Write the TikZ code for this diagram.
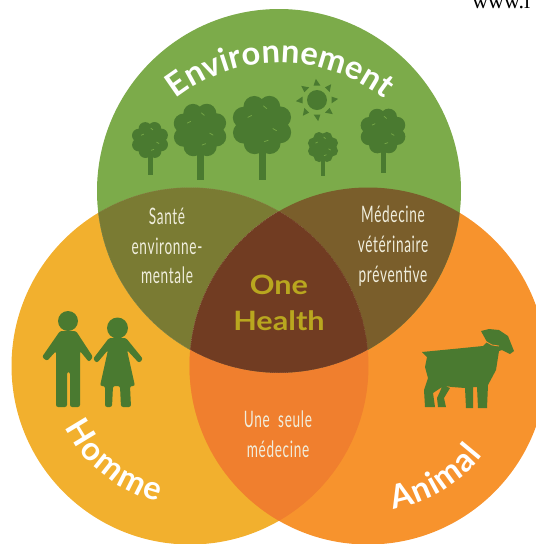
\documentclass[tikz,border=0pt]{standalone}
\usepackage{fontspec}
\usetikzlibrary{decorations.text}
\setmainfont{Liberation Serif}
\newfontfamily\curvefont{Lato}
\newfontfamily\wideboldfont[FakeStretch=1.15]{Lato}
\newfontfamily\condfont[FakeStretch=0.6,LetterSpace=3]{Lato}
\definecolor{cgreen}{HTML}{7CAB4A}
\definecolor{cyellow}{HTML}{F2B02E}
\definecolor{corange}{HTML}{F7932D}
\definecolor{ctl}{HTML}{7A7B33}
\definecolor{ctr}{HTML}{7A5E2B}
\definecolor{ccenter}{HTML}{713C22}
\definecolor{clr}{HTML}{F07F2E}
\definecolor{cicon}{HTML}{4A7A30}
\definecolor{cpale}{HTML}{F0EEDD}
\definecolor{cgold}{HTML}{B9A71F}
\tikzset{
  icon/.style={fill=cicon,draw=none},
  person/.style={fill=cicon,draw=none,rounded corners=1.6pt},
  leaf/.style={draw=cgreen!85!cicon,line width=0.6pt,line cap=round},
  smalllabel/.style={text=cpale,align=center,inner sep=0pt,font=\condfont\fontsize{17}{22.2}\selectfont},
  curved/.style={decorate,decoration={text along path,text color=white,text align={fit to path},text={|\curvefont\bfseries\fontsize{24.5}{24.5}\selectfont|#1}}},
}
\newcommand{\onetree}[5]{% cx cy r trunkbottom trunkwidth
  \fill[icon] (#1-#5/2,#2) rectangle (#1+#5/2,#4);
  \fill[icon] (#1,#2) circle[radius=0.74*#3];
  \foreach \a in {0,45,...,315}
    \fill[icon] (#1,#2) ++(\a+22:0.66*#3) circle[radius=0.36*#3];
  \foreach \a/\d/\t in {20/0.45/30,75/0.55/-20,215/0.5/-25,280/0.6/40}
    \draw[leaf] (#1,#2) ++(\a:\d*#3) ++(\t:0.07*#3) -- ++(\t+180:0.14*#3);
}
\begin{document}
\begin{tikzpicture}[x=.75pt,y=-.75pt]
\useasboundingbox (0,0) rectangle (536,544);
\clip (0,0) rectangle (536,544);
\def\ctop{(279,191) circle[radius=182]}
\def\cleft{(190,366) circle[radius=178.5]}
\def\cright{(368,366) circle[radius=178.5]}
\fill[cyellow] \cleft;
\fill[corange] \cright;
\fill[cgreen] \ctop;
\begin{scope}\clip \ctop; \fill[ctl] \cleft; \fill[ctr] \cright;
  \clip \cleft; \fill[ccenter] \cright;
  \draw[cpale!40!ccenter,line width=.4pt,densely dotted] \cleft;
  \draw[cpale!40!ccenter,line width=.4pt,densely dotted] \cright;
  \draw[cpale!40!ccenter,line width=.4pt,densely dotted] \ctop;
\end{scope}
\begin{scope}\clip \cleft; \clip \cright;
  \fill[clr,even odd rule] (0,0) rectangle (536,544) \ctop;
\end{scope}
% trees
\onetree{150}{140}{18.5}{175}{5}
\onetree{200}{130}{27}{180}{7}
\onetree{262}{125}{30}{180}{7}
\onetree{323}{147}{15.5}{176}{4.5}
\onetree{383}{131}{23}{173}{5}
% sun
\fill[icon] (317,100) circle[radius=10];
\foreach \a in {0,45,...,315}
  \fill[icon] (317,100) ++(\a:14.5) ++(\a+90:3.4) -- ++(\a-90:6.8) -- ++(\a+19:7) -- cycle;
% people
\fill[icon] (68,321) circle[radius=10];
\fill[icon] (117.5,328) circle[radius=10.5];
\fill[person] (60,331) -- (76,331) -- (93,357) -- (89,362) -- (80,351) -- (80,407) -- (70,407) -- (70,372) -- (67,372) -- (67,407) -- (56,407) -- (56,351) -- (47,361) -- (42,357) -- cycle;
\fill[person] (109,338) -- (126,338) -- (143,359) -- (139,363) -- (127,350) -- (135,386) -- (130,386) -- (131,407) -- (121,407) -- (120,386) -- (113,386) -- (112,407) -- (105,407) -- (105,386) -- (100,386) -- (108,350) -- (97,363) -- (93,359) -- cycle;
% goat
\fill[icon] (422,352) -- (453,349) -- (483,346) -- (487,342) -- (481,331) -- (489,329) -- (499,330) -- (508,336) -- (514,351) -- (510,354) -- (502,350) -- (499,351) -- (496,370) -- (488,385) -- (487,408) -- (478,408) -- (477,387) -- (473,387) -- (473,408) -- (466,408) -- (465,388) -- (452,387) -- (445,386) -- (450,388) -- (444,398) -- (446,407) -- (438,407) -- (437,398) -- (442,387) -- (433,393) -- (435,407) -- (425,407) -- (424,390) -- (428,378) -- (425,367) -- (427,357) -- cycle;
\draw[corange,line width=.6pt] (485,341) -- (492,345) -- (499,346);
% texts
\node[anchor=base west,inner sep=0pt,font=\fontsize{16.5}{16.5}\selectfont] (www) at (472,8) {www.l};
\path[curved=Environnement] (280,232) ++(-128:169) arc[start angle=-128,end angle=-52,radius=169];
\path[curved=Homme] (190,366) ++(154:139) arc[start angle=154,end angle=103,radius=139];
\path[curved=Animal] (368,366) ++(80:145.5) arc[start angle=80,end angle=38,radius=145.5];
\node[smalllabel] (sante) at (167,246) {Santé\\environne-\\mentale};
\node[smalllabel] (medvet) at (393,246) {Médecine\\vétérinaire\\préventive};
\node[smalllabel] (unesm) at (278,434) {Une\ \ seule\\médecine};
\node[text=cgold,align=center,inner sep=0pt,font=\wideboldfont\bfseries\fontsize{20}{26.5}\selectfont] (oh) at (279,303) {One\\Health};
\end{tikzpicture}
\end{document}
